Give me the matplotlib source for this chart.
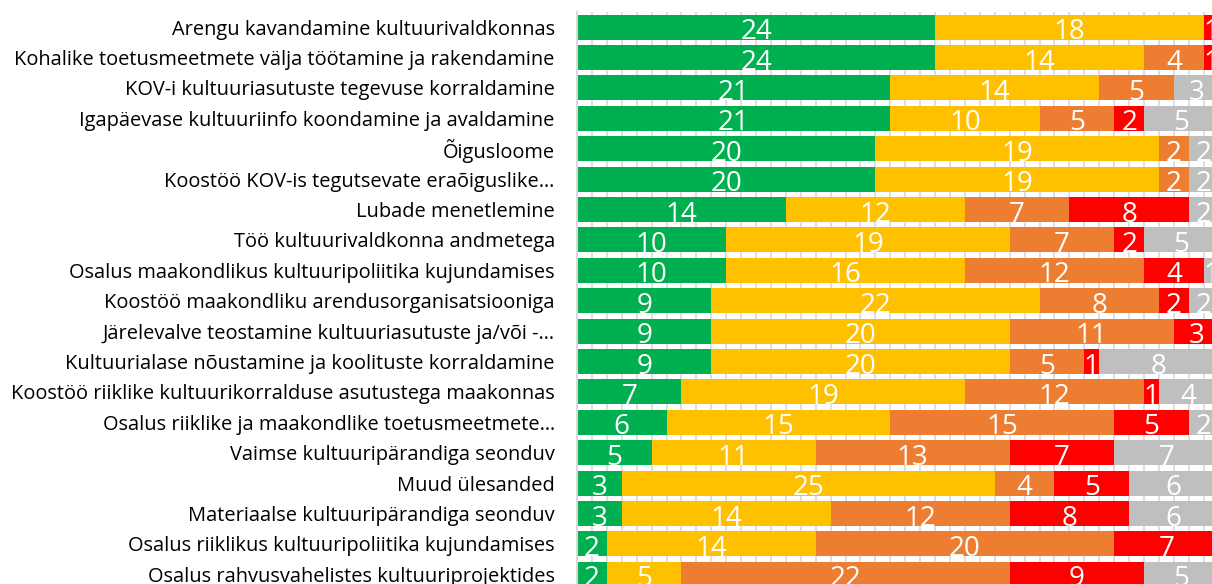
import matplotlib
matplotlib.use("Agg")
import matplotlib.pyplot as plt
import numpy as np

plt.rcParams['font.family'] = ['Open Sans', 'DejaVu Sans']

# tasks (top to bottom) and answer counts per category
tasks = [
    "Arengu kavandamine kultuurivaldkonnas",
    "Kohalike toetusmeetmete välja töötamine ja rakendamine",
    "KOV-i kultuuriasutuste tegevuse korraldamine",
    "Igapäevase kultuuriinfo koondamine ja avaldamine",
    "Õigusloome",
    "Koostöö KOV-is tegutsevate eraõiguslike…",
    "Lubade menetlemine",
    "Töö kultuurivaldkonna andmetega",
    "Osalus maakondlikus kultuuripoliitika kujundamises",
    "Koostöö maakondliku arendusorganisatsiooniga",
    "Järelevalve teostamine kultuuriasutuste ja/või -…",
    "Kultuurialase nõustamine ja koolituste korraldamine",
    "Koostöö riiklike kultuurikorralduse asutustega maakonnas",
    "Osalus riiklike ja maakondlike toetusmeetmete…",
    "Vaimse kultuuripärandiga seonduv",
    "Muud ülesanded",
    "Materiaalse kultuuripärandiga seonduv",
    "Osalus riiklikus kultuuripoliitika kujundamises",
    "Osalus rahvusvahelistes kultuuriprojektides",
]
green  = [24, 24, 21, 21, 20, 20, 14, 10, 10, 9, 9, 9, 7, 6, 5, 3, 3, 2, 2]
yellow = [18, 14, 14, 10, 19, 19, 12, 19, 16, 22, 20, 20, 19, 15, 11, 25, 14, 14, 5]
orange = [0, 4, 5, 5, 2, 2, 7, 7, 12, 8, 11, 5, 12, 15, 13, 4, 12, 20, 22]
red    = [1, 1, 0, 2, 0, 0, 8, 2, 4, 2, 3, 1, 1, 5, 7, 5, 8, 7, 9]
grey   = [0, 0, 3, 5, 2, 2, 2, 5, 1, 2, 0, 8, 4, 2, 7, 6, 6, 0, 5]

series = [green, yellow, orange, red, grey]
colors = ["#00B050", "#FFC000", "#ED7D31", "#FF0000", "#BFBFBF"]

fig = plt.figure(figsize=(12.12, 5.84), dpi=100)
# axes runs a bit past the right and bottom edge, like the cropped original
ax = fig.add_axes([577/1212, 1 - 589.5/584, 641.6/1212, 577.6/584])

y = np.arange(len(tasks))
left = np.zeros(len(tasks))
for vals, col in zip(series, colors):
    vals = np.array(vals)
    ax.barh(y, vals, left=left, height=0.82, color=col, zorder=2)
    for yi, (l, v) in enumerate(zip(left, vals)):
        if v > 0:
            ax.text(l + v/2, yi + 0.40, str(v), ha='center', va='baseline',
                    color='white', fontsize=20, zorder=3)
    left += vals

ax.set_xlim(0, 43)
ax.set_ylim(len(tasks) - 0.5, -0.5)
ax.set_xticks(np.arange(0, 44, 1))
ax.set_xticklabels([])
ax.tick_params(axis='x', length=0)
ax.grid(axis='x', color='#D9D9D9', lw=1.2, zorder=0)
ax.set_axisbelow(True)

ax.set_yticks(y)
ax.set_yticklabels(tasks, fontsize=14.4)
ax.tick_params(axis='y', length=0, pad=16)

for s in ['top', 'right', 'bottom']:
    ax.spines[s].set_visible(False)
ax.spines['left'].set_color('#D9D9D9')
ax.spines['left'].set_linewidth(1.5)

fig.savefig("out.png", dpi=100)
